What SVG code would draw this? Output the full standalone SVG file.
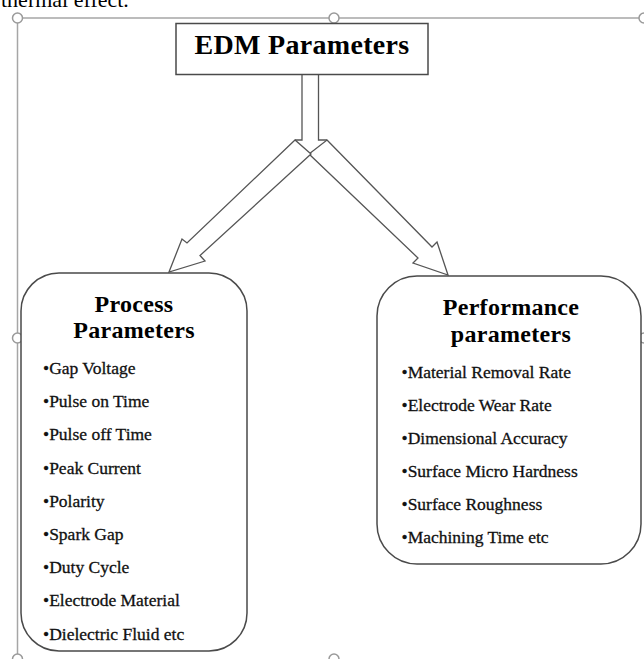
<svg xmlns="http://www.w3.org/2000/svg" width="644" height="659" viewBox="0 0 644 659">
  <style>
    .frame { fill: none; stroke: #a6a6a6; stroke-width: 1.5; }
    .handle { fill: #ffffff; stroke: #9a9a9a; stroke-width: 1.5; }
    .box { fill: #ffffff; stroke: #4a4a4a; stroke-width: 1.5; }
    .arrow { fill: #ffffff; stroke: #555555; stroke-width: 1.3; stroke-linejoin: miter; }
    .title { font-family: "Liberation Serif", "Times New Roman", serif; font-weight: bold; fill: #000000; text-anchor: middle; letter-spacing: 0.3px; }
    .item { font-family: "Liberation Serif", "Times New Roman", serif; font-size: 17.5px; fill: #111111; stroke: #111111; stroke-width: 0.3; }
    .page { font-family: "Liberation Serif", "Times New Roman", serif; font-size: 22px; fill: #000000; }
  </style>

  <rect width="644" height="659" fill="#ffffff"/>

  <!-- preceding page text, clipped at the top -->
  <text class="page" x="1" y="7">thermal effect.</text>

  <!-- selection frame with handles -->
  <g id="frame">
    <path class="frame" d="M17.5 18 H644 M17.5 18 V659"/>
    <circle class="handle" cx="17.5" cy="18" r="5"/>
    <circle class="handle" cx="334" cy="18" r="5"/>
    <circle class="handle" cx="644" cy="18" r="5"/>
    <circle class="handle" cx="17.5" cy="338" r="5"/>
    <circle class="handle" cx="644" cy="338" r="5"/>
    <circle class="handle" cx="17.5" cy="659" r="5"/>
    <circle class="handle" cx="334" cy="659" r="5"/>
  </g>

  <!-- block arrows splitting from the root -->
  <g id="connectors">
    <path class="arrow" d="M302 74.5 V140 H295 M318.5 74.5 V140 H327" fill="none"/>
    <polygon class="arrow" points="327,140 432,247 437,242 448,275 413,263 418,258 309,154"/>
    <polygon class="arrow" points="295,140 187,243 182,239 169,272 205,261 200,255.5 311,154"/>
  </g>

  <g id="edm-parameters">
    <rect class="box" x="176" y="23.5" width="252" height="51"/>
    <text class="title" x="302" y="53.5" font-size="28">EDM Parameters</text>
  </g>

  <g id="process-parameters">
    <rect class="box" x="21" y="273" width="226" height="378" rx="38" ry="38"/>
    <text class="title" x="134" y="312" font-size="24">Process</text>
    <text class="title" x="134" y="338" font-size="24">Parameters</text>
    <text class="item" x="43" y="374">•Gap Voltage</text>
    <text class="item" x="43" y="407">•Pulse on Time</text>
    <text class="item" x="43" y="440">•Pulse off Time</text>
    <text class="item" x="43" y="473.5">•Peak Current</text>
    <text class="item" x="43" y="506.5">•Polarity</text>
    <text class="item" x="43" y="540">•Spark Gap</text>
    <text class="item" x="43" y="573">•Duty Cycle</text>
    <text class="item" x="43" y="606">•Electrode Material</text>
    <text class="item" x="43" y="639.5">•Dielectric Fluid etc</text>
  </g>

  <g id="performance-parameters">
    <rect class="box" x="377" y="276" width="264" height="288" rx="40" ry="40"/>
    <text class="title" x="511" y="315" font-size="24">Performance</text>
    <text class="title" x="511" y="341.5" font-size="24">parameters</text>
    <text class="item" x="401.5" y="378">•Material Removal Rate</text>
    <text class="item" x="401.5" y="411">•Electrode Wear Rate</text>
    <text class="item" x="401.5" y="444">•Dimensional Accuracy</text>
    <text class="item" x="401.5" y="477">•Surface Micro Hardness</text>
    <text class="item" x="401.5" y="510">•Surface Roughness</text>
    <text class="item" x="401.5" y="543">•Machining Time etc</text>
  </g>
</svg>
